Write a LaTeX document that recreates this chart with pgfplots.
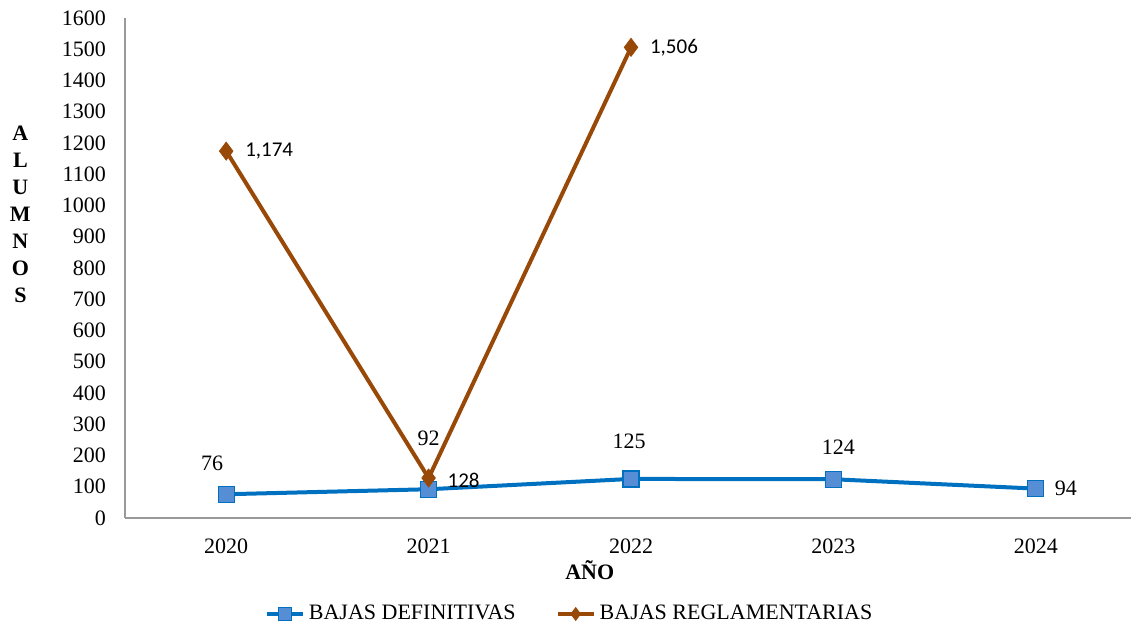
\documentclass[border=0pt]{standalone}
\usepackage{pgfplots}
\pgfplotsset{compat=1.18}
\usepackage{fontspec}
\setmainfont{Liberation Serif}
\newfontfamily\carlito{Carlito}
\definecolor{blueline}{HTML}{0070C0}
\definecolor{bluefill}{HTML}{558ED5}
\definecolor{brownline}{HTML}{984807}
\begin{document}
\begin{tikzpicture}
\useasboundingbox (-62.5pt,-56.5pt) rectangle (503.5pt,259pt);
\begin{axis}[
  at={(0,0)}, anchor=south west,
  scale only axis, width=503pt, height=250pt,
  xmin=-0.5, xmax=4.47, ymin=0, ymax=1600,
  axis x line*=bottom, axis y line*=left,
  axis line style={draw=gray!80, line width=0.8pt, -},
  xtick={0,1,2,3,4}, xticklabels={2020,2021,2022,2023,2024},
  ytick={0,100,...,1600},
  major tick length=0pt,
  /pgf/number format/assume math mode=true,
  /pgf/number format/1000 sep={},
  tick label style={font=\fontsize{11}{13}\selectfont},
  yticklabel style={xshift=-6pt},
  xticklabel style={yshift=-7pt},
  xlabel={AÑO},
  xlabel style={at={(axis description cs:0.462,-0.104)}, anchor=center, font=\bfseries\fontsize{11}{13}\selectfont},
  ylabel={A\\L\\U\\M\\N\\O\\S},
  ylabel style={at={(axis description cs:-0.104,0.608)}, anchor=center, rotate=-90, align=center, font=\bfseries\fontsize{11}{13.5}\selectfont},
  legend columns=2,
  legend style={draw=none, at={(axis description cs:0.443,-0.192)}, anchor=center, font=\fontsize{11}{13}\selectfont, /tikz/every even column/.append style={column sep=18pt}},
  legend image code/.code={\draw[#1, mark size=3.2pt, mark repeat=2, mark phase=2] plot coordinates {(0pt,0pt) (9pt,0pt) (18pt,0pt)};},
  clip=false,
]
\addplot[blueline, line width=2pt, mark=square*, mark size=4pt, mark options={fill=bluefill, draw=blueline, line width=0.6pt}]
  coordinates {(0,76) (1,92) (2,125) (3,124) (4,94)};
\addlegendentry{BAJAS DEFINITIVAS}
\addplot[brownline, line width=2pt, mark=diamond*, mark size=4.5pt, mark options={fill=brownline, draw=brownline, line width=0.4pt}]
  coordinates {(0,1174) (1,128) (2,1506)};
\addlegendentry{BAJAS REGLAMENTARIAS}
\tikzset{lab/.style={font=\fontsize{11}{13}\selectfont}, clab/.style={font=\carlito\fontsize{10.5}{12}\selectfont, anchor=west}}
\node[lab] at (axis cs:0,76) [yshift=15.5pt, xshift=-7pt] {76};
\node[lab] at (axis cs:1,92) [yshift=25.5pt] {92};
\node[lab] at (axis cs:2,125) [yshift=19pt, xshift=-1pt] {125};
\node[lab] at (axis cs:3,124) [yshift=16pt, xshift=2.5pt] {124};
\node[lab, anchor=west] at (axis cs:4,94) [xshift=6pt] {94};
\node[clab] at (axis cs:0,1174) [xshift=6pt] {1,174};
\node[clab] at (axis cs:1,128) [xshift=6pt, yshift=-1pt] {128};
\node[clab] at (axis cs:2,1506) [xshift=6pt] {1,506};
\end{axis}
\end{tikzpicture}
\end{document}
